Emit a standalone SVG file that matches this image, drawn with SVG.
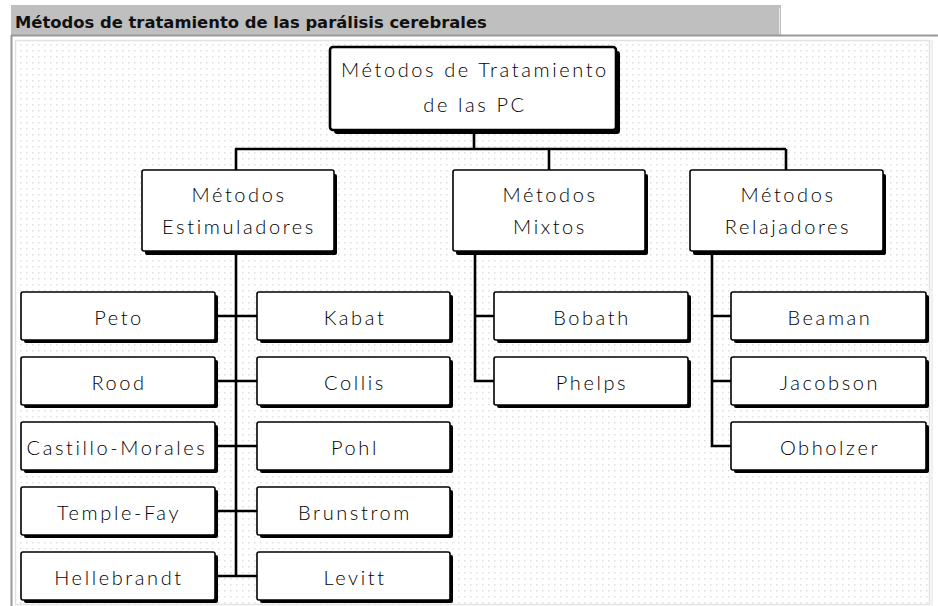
<svg xmlns="http://www.w3.org/2000/svg" width="938" height="606" viewBox="0 0 938 606">
<defs>
<pattern id="dots" x="0" y="0" width="6" height="6" patternUnits="userSpaceOnUse">
<rect x="2" y="2" width="1.5" height="1.5" fill="#dedede"/>
</pattern>
</defs>
<style>
.title{font-family:"DejaVu Sans",Verdana,sans-serif;font-weight:bold;font-size:16.4px;fill:#111}
.shadow{fill:#000}
.box{fill:#fff;stroke:#000;stroke-width:1.6}
.rootbox{fill:#fff;stroke:#000;stroke-width:2.6}
.lbl{font-family:Lato,"Liberation Sans",Arial,sans-serif;font-weight:300;font-size:20px;letter-spacing:2.6px;fill:#000;text-anchor:middle}
.conn{fill:none;stroke:#000;stroke-width:2.6}
</style>
<rect x="0" y="0" width="938" height="606" fill="#fff"/>
<rect x="11" y="5" width="770" height="30" fill="#bfbfbf"/>
<rect x="779" y="8" width="1" height="26" fill="#e8e8e8"/>
<rect x="11" y="34.5" width="927" height="2" fill="#999"/>
<rect x="10.5" y="35" width="2" height="571" fill="#999"/>
<rect x="15.5" y="40.5" width="914" height="564" fill="url(#dots)" stroke="#e2e2e2" stroke-width="1.5"/>
<rect x="931.5" y="40" width="1" height="566" fill="#e2e2e2"/>
<text class="title" x="15" y="28">Métodos de tratamiento de las parálisis cerebrales</text>

<g id="connectors">
<path class="conn" d="M474,130 V149 M235,149 H786 M236,149 V170 M549,149 V170 M786,149 V170"/>
<path class="conn" d="M236,251 V576 M215,316 H257 M215,381 H257 M215,446 H257 M215,511 H257 M215,576 H257"/>
<path class="conn" d="M475,251 V381 H494 M475,316 H494"/>
<path class="conn" d="M712,251 V446 H731 M712,316 H731 M712,381 H731"/>
</g>

<g id="root">
<rect class="shadow" x="334" y="51" width="286" height="83" rx="3"/>
<rect class="rootbox" x="330" y="47" width="286" height="83" rx="3"/>
<text class="lbl" x="475" y="77">Métodos de Tratamiento</text>
<text class="lbl" x="475" y="112">de las PC</text>
</g>

<g id="estimuladores">
<rect class="shadow" x="145" y="174" width="192" height="81" rx="2"/>
<rect class="box" x="142" y="170" width="192" height="81" rx="2"/>
<text class="lbl" x="239" y="202">Métodos</text>
<text class="lbl" x="239" y="234">Estimuladores</text>
</g>
<g id="mixtos">
<rect class="shadow" x="456" y="174" width="192" height="81" rx="2"/>
<rect class="box" x="453" y="170" width="192" height="81" rx="2"/>
<text class="lbl" x="550" y="202">Métodos</text>
<text class="lbl" x="550" y="234">Mixtos</text>
</g>
<g id="relajadores">
<rect class="shadow" x="693" y="174" width="193" height="81" rx="2"/>
<rect class="box" x="690" y="170" width="193" height="81" rx="2"/>
<text class="lbl" x="788" y="202">Métodos</text>
<text class="lbl" x="788" y="234">Relajadores</text>
</g>

<g id="peto">
<rect class="shadow" x="24" y="295" width="194" height="48" rx="2"/>
<rect class="box" x="21" y="292" width="194" height="48" rx="2"/>
<text class="lbl" x="119" y="325">Peto</text>
</g>
<g id="rood">
<rect class="shadow" x="24" y="360" width="194" height="48" rx="2"/>
<rect class="box" x="21" y="357" width="194" height="48" rx="2"/>
<text class="lbl" x="119" y="390">Rood</text>
</g>
<g id="castillo-morales">
<rect class="shadow" x="24" y="425" width="194" height="48" rx="2"/>
<rect class="box" x="21" y="422" width="194" height="48" rx="2"/>
<text class="lbl" x="117" y="455">Castillo-Morales</text>
</g>
<g id="temple-fay">
<rect class="shadow" x="24" y="490" width="194" height="48" rx="2"/>
<rect class="box" x="21" y="487" width="194" height="48" rx="2"/>
<text class="lbl" x="119" y="520">Temple-Fay</text>
</g>
<g id="hellebrandt">
<rect class="shadow" x="24" y="555" width="194" height="48" rx="2"/>
<rect class="box" x="21" y="552" width="194" height="48" rx="2"/>
<text class="lbl" x="119" y="585">Hellebrandt</text>
</g>

<g id="kabat">
<rect class="shadow" x="260" y="295" width="193" height="48" rx="2"/>
<rect class="box" x="257" y="292" width="193" height="48" rx="2"/>
<text class="lbl" x="355" y="325">Kabat</text>
</g>
<g id="collis">
<rect class="shadow" x="260" y="360" width="193" height="48" rx="2"/>
<rect class="box" x="257" y="357" width="193" height="48" rx="2"/>
<text class="lbl" x="355" y="390">Collis</text>
</g>
<g id="pohl">
<rect class="shadow" x="260" y="425" width="193" height="48" rx="2"/>
<rect class="box" x="257" y="422" width="193" height="48" rx="2"/>
<text class="lbl" x="355" y="455">Pohl</text>
</g>
<g id="brunstrom">
<rect class="shadow" x="260" y="490" width="193" height="48" rx="2"/>
<rect class="box" x="257" y="487" width="193" height="48" rx="2"/>
<text class="lbl" x="355" y="520">Brunstrom</text>
</g>
<g id="levitt">
<rect class="shadow" x="260" y="555" width="193" height="48" rx="2"/>
<rect class="box" x="257" y="552" width="193" height="48" rx="2"/>
<text class="lbl" x="355" y="585">Levitt</text>
</g>

<g id="bobath">
<rect class="shadow" x="497" y="295" width="194" height="48" rx="2"/>
<rect class="box" x="494" y="292" width="194" height="48" rx="2"/>
<text class="lbl" x="592" y="325">Bobath</text>
</g>
<g id="phelps">
<rect class="shadow" x="497" y="360" width="194" height="48" rx="2"/>
<rect class="box" x="494" y="357" width="194" height="48" rx="2"/>
<text class="lbl" x="592" y="390">Phelps</text>
</g>

<g id="beaman">
<rect class="shadow" x="734" y="295" width="195" height="48" rx="2"/>
<rect class="box" x="731" y="292" width="195" height="48" rx="2"/>
<text class="lbl" x="830" y="325">Beaman</text>
</g>
<g id="jacobson">
<rect class="shadow" x="734" y="360" width="195" height="48" rx="2"/>
<rect class="box" x="731" y="357" width="195" height="48" rx="2"/>
<text class="lbl" x="830" y="390">Jacobson</text>
</g>
<g id="obholzer">
<rect class="shadow" x="734" y="425" width="195" height="48" rx="2"/>
<rect class="box" x="731" y="422" width="195" height="48" rx="2"/>
<text class="lbl" x="830" y="455">Obholzer</text>
</g>
</svg>
